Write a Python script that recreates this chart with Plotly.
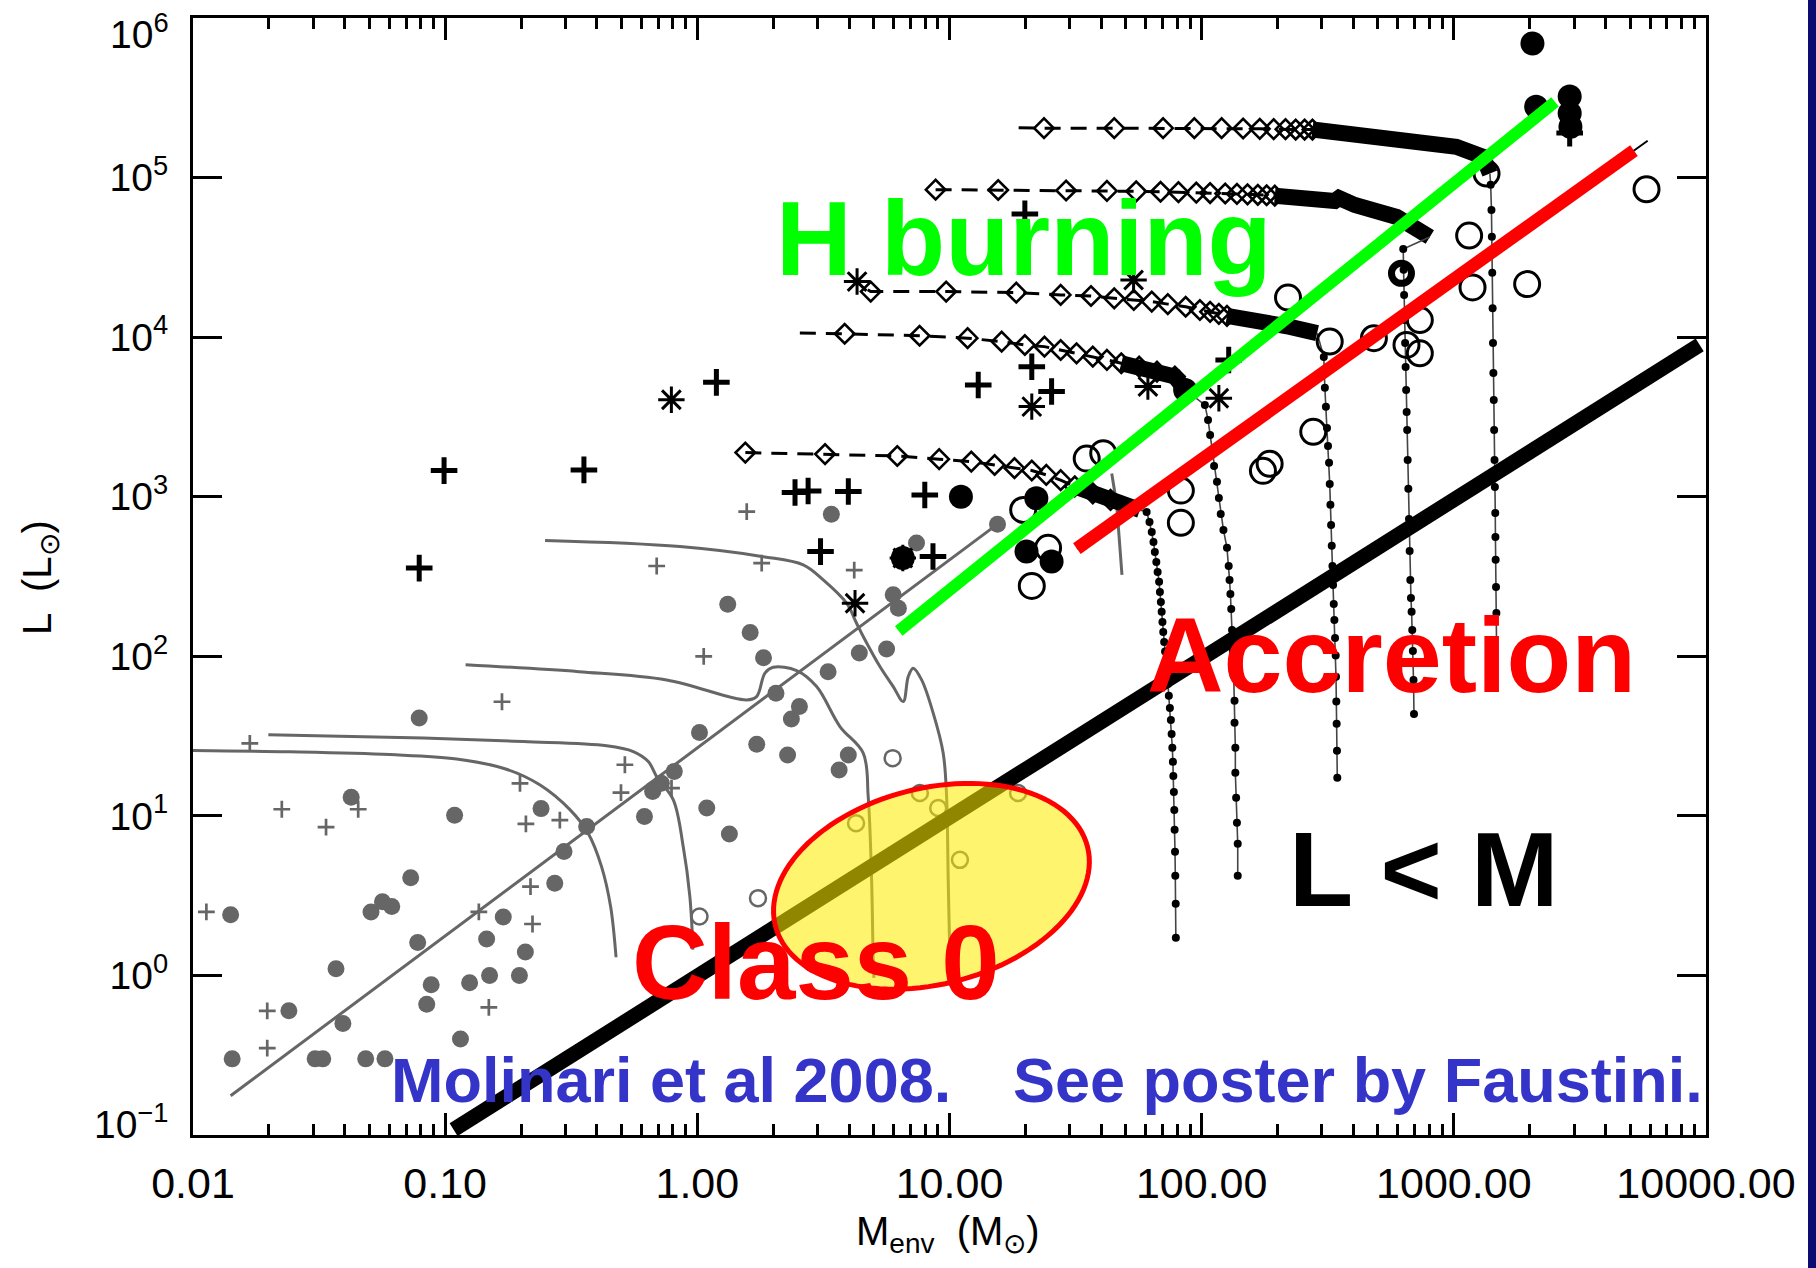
import numpy as np
import plotly.graph_objects as go

# ---------------- data (M_env in Msun, L in Lsun) ----------------
gray_dot_M = [0.0424, 0.109, 0.240, 0.364, 0.296, 0.272, 0.665, 0.617, 0.0141, 0.0730, 0.0508, 0.0564, 0.0614, 0.0778,
              0.0369, 0.170, 0.146, 0.208, 0.150, 0.197, 0.125, 0.088, 0.0845, 0.024, 0.0393, 0.115, 0.0143, 0.0305,
              0.0327, 0.0484, 0.0577, 0.0789, 3.40, 15.5, 7.4, 5.98, 6.27, 1.32, 1.62, 1.83, 4.39, 5.63, 3.30, 2.05,
              2.54, 2.36, 1.02, 1.72, 2.28, 3.97, 3.65, 0.81, 0.668, 0.72, 1.09, 1.34]
gray_dot_L = [13.1, 10.1, 11.1, 8.57, 5.97, 3.78, 14.2, 9.9, 2.4, 4.1, 2.5, 2.9, 2.7, 1.61,
              1.10, 2.32, 1.69, 1.40, 1.0, 1.0, 0.90, 0.875, 0.66, 0.60, 0.50, 0.40, 0.30, 0.30,
              0.30, 0.30, 0.30, 41, 776, 673, 512, 243, 200, 212, 141, 98, 105, 111, 80, 58.7,
              48.4, 40.4, 33.3, 28.1, 24.1, 24.1, 19.4, 19.0, 14.6, 16.0, 11.2, 7.7]

gray_plus_M = [0.0168, 0.0225, 0.0337, 0.0452, 0.198, 0.209, 0.285, 0.516, 0.498, 0.0113, 0.218, 0.222,
               0.136, 0.149, 0.0197, 0.0197, 0.168, 1.57, 0.69, 1.80, 4.19, 1.06, 0.79]
gray_plus_L = [28.5, 11.0, 8.5, 11.0, 16.0, 8.9, 9.4, 20.9, 14.0, 2.5, 3.6, 2.1,
               2.5, 0.63, 0.60, 0.35, 51.9, 807, 368, 383, 347, 100, 14.9]

gray_ring_M = [5.95, 7.63, 9.02, 18.7, 4.26, 11.0, 1.74, 1.02]
gray_ring_L = [23.0, 13.9, 11.2, 13.9, 9.0, 5.30, 3.05, 2.34]

plus_M = [0.099, 0.355, 0.0789, 1.19, 2.44, 2.75, 3.97, 3.08, 7.98, 8.6, 19.9, 13.0, 21.2, 25.4, 128, 2880]
plus_L = [1458, 1472, 357, 5210, 1062, 1087, 1077, 453, 1026, 422, 59200, 5010, 6530, 4560, 7190, 190000]

star_M = [0.789, 4.22, 4.30, 53.7, 21.2, 61.2, 117, 6.53]
star_L = [4050, 215, 22300, 22800, 3670, 4900, 4140, 413]

dot_M = [11.1, 6.53, 20.2, 25.4, 22.1, 86, 2050, 2120, 2880, 2880, 2900]
dot_L = [998, 413, 453, 392, 977, 4670, 693000, 278000, 322000, 253000, 208000]

ring_M = [1348, 5810, 1150, 1186, 1953, 220, 322, 482, 733, 649, 733, 277, 175, 186, 35.0, 40.7, 82.7, 82.7,
          19.6, 24.6, 21.2]
ring_L = [106000, 84500, 43300, 20500, 21500, 17700, 9380, 9850, 12800, 8940, 7920, 2550, 1452, 1607, 1733,
          1875, 1092, 686, 826, 478, 276]
thick_ring_M = [620]
thick_ring_L = [25100]

# low-mass evolutionary tracks (grey)
curveA_M = [0.01, 0.0242, 0.0604, 0.111, 0.175, 0.238, 0.313, 0.369, 0.417, 0.453, 0.476]
curveA_L = [25.7, 25.2, 24.2, 22.7, 19.6, 15.6, 10.9, 7.79, 4.81, 2.70, 1.30]
curveB_M = [0.0199, 0.0819, 0.204, 0.437, 0.557, 0.639, 0.690, 0.803, 0.879, 0.934, 0.961]
curveB_L = [32.2, 30.7, 29.2, 27.5, 25.3, 21.9, 17.6, 12.6, 6.42, 3.12, 1.45]
curveC_M = [0.1205, 0.339, 0.756, 1.569, 1.718, 1.854, 2.000, 2.476, 2.972, 3.677, 4.549, 4.760, 4.910, 4.983, 5.015]
curveC_L = [88.6, 80.1, 71.1, 53.3, 55.9, 78.4, 85.4, 81.4, 64.6, 36.3, 24.7, 13.2, 3.97, 1.25, 0.966]
curveD_M = [0.249, 0.853, 1.825, 2.630, 3.157, 3.908, 4.281, 4.549, 5.297, 5.982, 6.553, 6.860, 7.178, 7.753,
            8.618, 9.441, 9.739, 9.882, 10.04, 10.08]
curveD_L = [531, 487, 421, 374, 301, 215, 161, 133, 86.2, 64.6, 52.0, 74.6, 84.2, 71.1,
            44.0, 24.7, 13.2, 3.97, 1.25, 0.966]
gray_fit_M = [0.0141, 15.5]
gray_fit_L = [0.176, 673]
gray_hook_M = [44.0, 46.0, 48.3]
gray_hook_L = [1400, 900, 324]

# high-mass tracks (black): dashed part, dense band, and vertical dotted descent
t1_dash_M = [18.8, 23.7, 45.0, 70.3, 93.5, 120, 146, 170, 193, 215, 236, 256, 275]
t1_dash_L = [205000, 204000, 204000, 204000, 204000, 204000, 203000, 202000, 201000, 201000, 200000, 200000, 200000]
t1_band_M = [275, 387, 710, 1023, 1306, 1390]
t1_band_L = [200000, 190000, 172000, 156000, 135000, 106000]
t1_vert_M = [1390, 1400, 1410, 1415, 1420, 1425, 1430, 1435, 1440, 1445, 1450, 1455, 1460, 1462, 1465, 1470, 1475, 1480]
t1_vert_L = [106000, 90000, 62700, 42500, 25300, 15200, 9200, 5970, 4040, 2620, 1700, 1150, 791, 560, 402, 272, 187, 88]

t2_dash_M = [8.81, 15.6, 29.0, 42.1, 55.0, 68.7, 80.9, 95.2, 108, 124, 138, 152, 167, 181, 195]
t2_dash_L = [84000, 83600, 83000, 82500, 82000, 81500, 81000, 80500, 80000, 79500, 79000, 78500, 78000, 77500, 77000]
t2_band_M = [195, 245, 337, 350, 365, 405, 594, 713, 803]
t2_band_L = [77000, 73500, 71300, 74500, 71000, 67300, 56600, 49000, 42400]
t2_vert_M = [803, 630, 632, 635, 638, 641, 644, 647, 650, 653, 656, 660, 664, 668, 672, 676, 680, 684, 688, 692, 695]
t2_vert_L = [42400, 35700, 26400, 18400, 12800, 9200, 6510, 4670, 3400, 2620, 1700, 1120, 726, 457, 301, 232, 190,
             146, 108, 71, 43.5]

t3_dash_M = [4.74, 4.87, 9.70, 18.4, 27.6, 36.4, 45.0, 53.8, 63.4, 73.4, 86.4, 98.4, 108, 117, 126]
t3_dash_L = [19800, 19300, 19300, 19000, 18400, 18100, 17500, 17100, 16700, 16100, 15500, 14800, 14400, 14000, 13600]
t3_band_M = [126, 170, 224, 287]
t3_band_L = [13600, 12800, 11600, 10600]
t3_vert_M = [287, 305, 308, 311, 314, 317, 320, 322, 324, 326, 328, 330, 332, 334, 336, 338, 340, 341, 342, 343, 344, 345]
t3_vert_L = [10600, 7520, 4810, 3660, 2700, 2080, 1630, 1200, 889, 666, 492, 368, 280, 213, 169, 130, 101, 74.4,
             52.0, 37.8, 25.6, 17.3]

t4_dash_M = [2.55, 3.84, 7.61, 11.8, 16.1, 19.9, 23.8, 27.6, 31.9, 37.0, 42.1, 48.0, 56.5, 66.5, 78.3]
t4_dash_L = [10600, 10500, 10200, 9850, 9370, 8930, 8720, 8310, 7920, 7550, 7200, 6860, 6530, 6080, 5660]
t4_band_M = [48.0, 56.5, 66.5, 78.3, 86]
t4_band_L = [6860, 6530, 6080, 5660, 4670]
t4_vert_M = [86, 103, 106, 108, 110, 112, 115, 117, 119, 122, 126, 128, 129, 130, 131, 132, 133, 134, 135, 135, 136,
             136, 137, 138, 139, 139]
t4_vert_L = [4670, 3760, 3030, 2440, 1960, 1560, 1240, 982, 780, 619, 478, 368, 301, 246, 198, 146, 108, 75.4, 52.6,
             38.3, 26.7, 18.6, 13.0, 9.04, 6.68, 4.21]

t5_dash_M = [1.55, 3.21, 6.21, 9.10, 12.2, 15.1, 18.1, 21.2, 24.2, 27.6, 31.4, 37.0, 43.5]
t5_dash_L = [1890, 1850, 1800, 1720, 1660, 1580, 1510, 1460, 1370, 1270, 1160, 1050, 955]
t5_band_M = [31.4, 37.0, 43.5, 50.9, 56.9]
t5_band_L = [1160, 1050, 955, 851, 826]
t5_vert_M = [56.9, 60.5, 62.1, 63.4, 64.4, 65.2, 66.1, 66.9, 67.8, 68.3, 68.9, 69.4, 69.9, 70.4, 71.0, 71.6, 72.2,
             72.8, 73.5, 74.1, 74.8, 75.5, 76.0, 76.5, 76.9, 77.2, 77.6, 77.9, 78.1, 78.4, 78.6, 78.9, 79.0]
t5_vert_L = [826, 803, 695, 601, 521, 451, 390, 338, 293, 253, 219, 190, 164, 142, 123, 107, 92.2, 79.9, 67.1, 56.5,
             47.5, 39.9, 32.6, 26.7, 21.8, 17.8, 14.1, 10.9, 8.17, 5.95, 4.21, 2.81, 1.72]

# thick guide lines
hburn_M = [6.29, 2520]
hburn_L = [144, 298000]
accr_M = [32, 5180]
accr_L = [473, 147600]
accr_thin_M = [32, 5870]
accr_thin_L = [473, 170000]
lm_M = [0.108, 9440]
lm_L = [0.108, 8940]

# axes
x_tickvals = [0.01, 0.1, 1, 10, 100, 1000, 10000]
x_ticktext = ["0.01", "0.10", "1.00", "10.00", "100.00", "1000.00", "10000.00"]
y_tickvals = [0.1, 1, 10, 100, 1e3, 1e4, 1e5, 1e6]
y_ticktext = ["10<sup>\u22121</sup>", "10<sup>0</sup>", "10<sup>1</sup>", "10<sup>2</sup>", "10<sup>3</sup>",
              "10<sup>4</sup>", "10<sup>5</sup>", "10<sup>6</sup>"]
# end labels are nudged inside the frame (as in the original IDL plot)
end_label_shift = {0: 14, 7: -13}

# labels: (text, M, L, colour, size)
labels = [
    ("<b>H burning</b>", 2.01, 41700, "#00ff00", 105),
    ("<b>Accretion</b>", 59.4, 102.5, "#ff0000", 106),
    ("<b>L &lt; M</b>", 217, 4.64, "#000000", 105),
    ("<b>Class 0</b>", 0.539, 1.21, "#ff0000", 105),
    ("<b>Molinari et al 2008.</b>", 0.0597, 0.222, "#3434c8", 63),
    ("<b>See poster by Faustini.</b>", 17.5, 0.222, "#3434c8", 63),
]

ellipse = dict(M=8.48, L=3.62, a_px=161, b_px=98, tilt_deg=14.2)

# ---------------- figure ----------------
W, H = 1816, 1268
ML, MR, MT, MB = 193, 110, 18, 133
PW, PH = W - ML - MR, H - MT - MB
XR, YR = (-2, 4), (-1, 6)
GRAY = "#666666"
FONT = "Liberation Sans, Arial, sans-serif"

fig = go.Figure()


def line(x, y, color, width, dash=None, shape="linear"):
    fig.add_trace(go.Scatter(x=x, y=y, mode="lines", line=dict(color=color, width=width, dash=dash, shape=shape),
                             hoverinfo="skip"))


def marks(x, y, symbol, size, color, lw=0, fill=None):
    fig.add_trace(go.Scatter(x=x, y=y, mode="markers",
                             marker=dict(symbol=symbol, size=size, color=fill if fill else color,
                                         line=dict(color=color, width=lw)), hoverinfo="skip"))


# grey low-mass material
for cx, cy in [(curveA_M, curveA_L), (curveB_M, curveB_L), (curveC_M, curveC_L), (curveD_M, curveD_L)]:
    line(cx, cy, GRAY, 3, shape="spline")
line(gray_fit_M, gray_fit_L, GRAY, 3)
line(gray_hook_M, gray_hook_L, GRAY, 3)
marks(gray_dot_M, gray_dot_L, "circle", 17, GRAY)
marks(gray_plus_M, gray_plus_L, "cross-thin-open", 12, GRAY, lw=2.7)
marks(gray_ring_M, gray_ring_L, "circle-open", 16, GRAY, lw=2.5)

# black high-mass tracks
tracks = [
    (t1_dash_M, t1_dash_L, t1_band_M, t1_band_L, t1_vert_M, t1_vert_L, 1, -1),
    (t2_dash_M, t2_dash_L, t2_band_M, t2_band_L, t2_vert_M, t2_vert_L, 0, None),
    (t3_dash_M, t3_dash_L, t3_band_M, t3_band_L, t3_vert_M, t3_vert_L, 1, None),
    (t4_dash_M, t4_dash_L, t4_band_M, t4_band_L, t4_vert_M, t4_vert_L, 1, None),
    (t5_dash_M, t5_dash_L, t5_band_M, t5_band_L, t5_vert_M, t5_vert_L, 0, None),
]
for dM, dL, bM, bL, vM, vL, d0, vend in tracks:
    line(dM, dL, "black", 3, dash="16px,10px")
    line(bM, bL, "black", 16)
    line(vM, vL, "#444444", 1.6)
    marks(vM[1:vend], vL[1:vend], "circle", 8, "black")
    marks(dM[d0:], dL[d0:], "diamond-open", 15, "black", lw=2.6)

# black sources
marks(plus_M, plus_L, "cross-thin-open", 19, "black", lw=5)
marks(star_M, star_L, "asterisk-open", 22, "black", lw=3)
marks(dot_M, dot_L, "circle", 24, "black")
marks(ring_M, ring_L, "circle-open", 25, "black", lw=3)
marks(thick_ring_M, thick_ring_L, "circle-open", 20, "black", lw=7)

# guide lines
line(accr_thin_M, accr_thin_L, "black", 2)
line(lm_M, lm_L, "black", 15)
line(hburn_M, hburn_L, "#00ff00", 12)
line(accr_M, accr_L, "#ff0000", 13)


def px(M):
    return (np.log10(M) - XR[0]) / (XR[1] - XR[0])


def py(L):
    return (np.log10(L) - YR[0]) / (YR[1] - YR[0])


# Class 0 ellipse (paper coordinates)
t = np.linspace(0, 2 * np.pi, 120)
th = np.radians(ellipse["tilt_deg"])
ex = px(ellipse["M"]) + (ellipse["a_px"] * np.cos(t) * np.cos(th) - ellipse["b_px"] * np.sin(t) * np.sin(th)) / PW
ey = py(ellipse["L"]) + (ellipse["a_px"] * np.cos(t) * np.sin(th) + ellipse["b_px"] * np.sin(t) * np.cos(th)) / PH
path = "M " + " L ".join(f"{a:.5f},{b:.5f}" for a, b in zip(ex, ey)) + " Z"
shapes = [
    dict(type="path", xref="paper", yref="paper", path=path, layer="above",
         fillcolor="rgba(255,235,0,0.57)", line=dict(color="#ff0000", width=5)),
    dict(type="rect", xref="paper", yref="paper", x0=(W - 8 - ML) / PW, x1=(W - ML) / PW,
         y0=-MB / PH, y1=(PH + MT) / PH, fillcolor="#0b0b72", line=dict(width=0), layer="above"),
]

annotations = []
for txt, M, L, col, sz in labels:
    annotations.append(dict(text=txt, x=np.log10(M), y=np.log10(L), xref="x", yref="y", xanchor="left",
                            yanchor="middle", showarrow=False, font=dict(family=FONT, size=sz, color=col)))
annotations.append(dict(text="L  (L<sub>\u2299</sub>)", x=(40 - ML) / PW, y=(PH + MT - 578) / PH, xref="paper",
                        yref="paper", textangle=-90, xanchor="center", yanchor="middle", showarrow=False,
                        font=dict(family=FONT, size=40, color="black")))
annotations.append(dict(text="M<sub>env</sub>  (M<sub>\u2299</sub>)", x=0.4987, y=(PH + MT - 1234) / PH,
                        xref="paper", yref="paper", xanchor="center", yanchor="middle", showarrow=False,
                        font=dict(family=FONT, size=40, color="black")))

# y tick labels: interior ones by the axis, end ones nudged inward
y_ticktext_axis = list(y_ticktext)
for i, shift in end_label_shift.items():
    y_ticktext_axis[i] = ""
    annotations.append(dict(text=y_ticktext[i], x=-22 / PW, y=np.log10(y_tickvals[i]), xref="paper", yref="y",
                            xanchor="right", yanchor="middle", yshift=shift, showarrow=False,
                            font=dict(family=FONT, size=39, color="black")))

fig.update_layout(
    width=W, height=H, autosize=False, margin=dict(l=ML, r=MR, t=MT, b=MB, autoexpand=False),
    paper_bgcolor="white", plot_bgcolor="white", showlegend=False,
    shapes=shapes, annotations=annotations,
    xaxis=dict(type="log", range=list(XR), showgrid=False, zeroline=False, showline=True, linecolor="black",
               linewidth=3, mirror="ticks", ticks="inside", ticklen=22, tickwidth=3, tickcolor="black",
               tickmode="array", tickvals=x_tickvals, ticktext=x_ticktext, ticklabelstandoff=8,
               ticklabeloverflow="allow", automargin=False,
               tickfont=dict(family=FONT, size=43, color="black"),
               minor=dict(ticks="inside", ticklen=11, tickwidth=3, tickcolor="black", dtick="D1", showgrid=False)),
    yaxis=dict(type="log", range=list(YR), showgrid=False, zeroline=False, showline=True, linecolor="black",
               linewidth=3, mirror="ticks", ticks="inside", ticklen=29, tickwidth=3, tickcolor="black",
               tickmode="array", tickvals=y_tickvals, ticktext=y_ticktext_axis, ticklabelstandoff=14,
               ticklabeloverflow="allow", automargin=False,
               tickfont=dict(family=FONT, size=39, color="black")),
)

fig.write_html("out.html")
